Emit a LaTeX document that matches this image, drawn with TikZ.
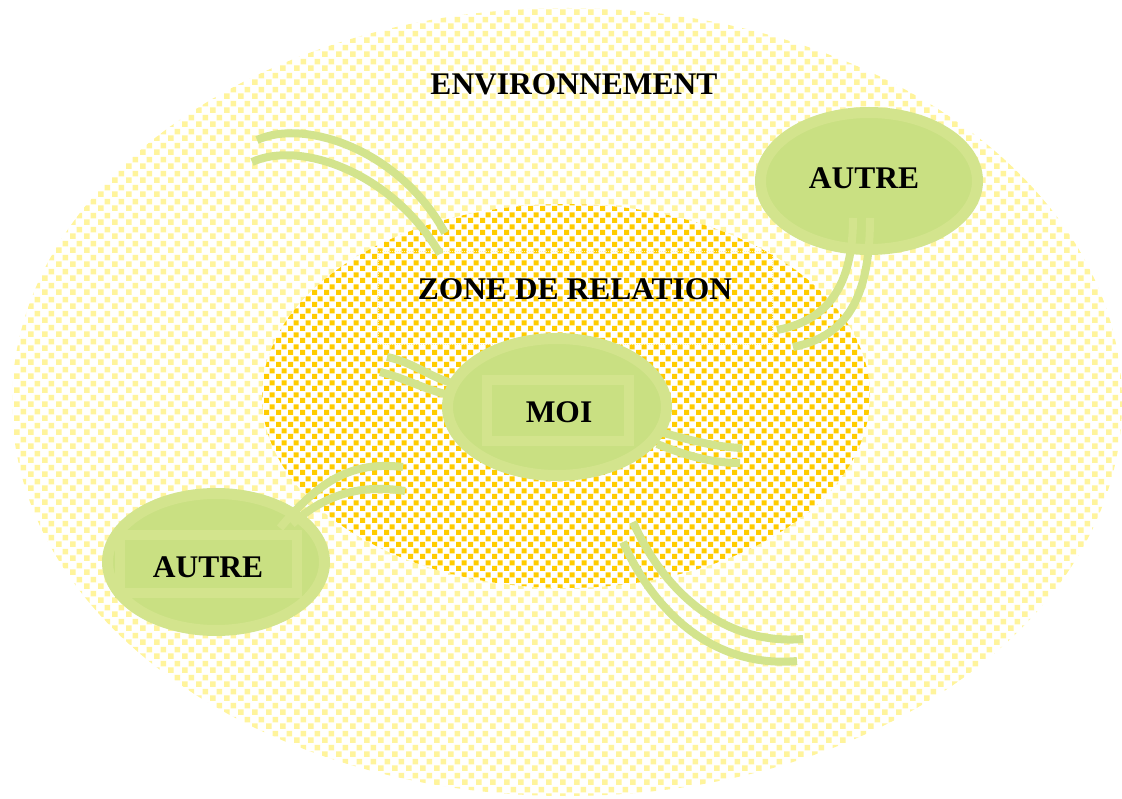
\documentclass[tikz,border=0pt]{standalone}
\usepackage{fontspec}
\setmainfont{Liberation Serif}
\usetikzlibrary{shapes.geometric,patterns.meta}
\definecolor{lgreen}{HTML}{D3E48D}
\definecolor{cgreen}{HTML}{C9E082}
\definecolor{ydot}{HTML}{FFF49C}
\definecolor{odot}{HTML}{FFCC00}
\definecolor{zline}{HTML}{FFF2B0}
\tikzdeclarepattern{name=osq, type=uncolored,
  bounding box={(0pt,0pt) and (12pt,12pt)}, tile size={(12pt,12pt)},
  code={\fill (0pt,0pt) rectangle (5.5pt,5.5pt); \fill (6pt,6pt) rectangle (11.5pt,11.5pt);}}
\tikzdeclarepattern{name=ysq, type=uncolored,
  bounding box={(0pt,0pt) and (14pt,14pt)}, tile size={(14pt,14pt)},
  code={\fill (0pt,0pt) rectangle (6pt,6pt); \fill (7pt,7pt) rectangle (13pt,13pt);}}
\begin{document}
\begin{tikzpicture}[x=1pt,y=-1pt,
  lbl/.style={font=\bfseries\fontsize{31.5}{36}\selectfont, anchor=base, inner sep=0},
  link/.style={draw=lgreen, line width=8pt},
  person/.style={ellipse, draw=lgreen, line width=11pt, fill=cgreen, inner sep=0},
  frame/.style={draw=lgreen, line width=10pt, inner sep=0},
  dotted area/.style 2 args={ellipse, inner sep=0, fill=white, postaction={pattern=#1, pattern color=#2}},
]
\useasboundingbox (0,0) rectangle (1122,799);
% environment
\node[dotted area={ysq}{ydot}, minimum width=1110pt, minimum height=788pt] (env) at (567,402) {};
% zone de relation
\node[dotted area={osq}{odot}, minimum width=608pt, minimum height=384pt] (zone) at (566,396) {};
\node[draw=zline, densely dotted, line width=1pt, minimum width=394pt, minimum height=93pt, inner sep=0] (zbox) at (575,298.5) {};

% free ends of connectors
\coordinate (tl1a) at (257,140); \coordinate (tl1b) at (445,233);
\coordinate (tl2a) at (252,162); \coordinate (tl2b) at (440,254);
\coordinate (ml1a) at (387,357); \coordinate (ml1b) at (452,383);
\coordinate (ml2a) at (380,372); \coordinate (ml2b) at (450,395);
\coordinate (mr1a) at (660,432); \coordinate (mr1b) at (742,448);
\coordinate (mr2a) at (657,444); \coordinate (mr2b) at (740,463);
\coordinate (b1a) at (633,522); \coordinate (b1b) at (803,639);
\coordinate (b2a) at (623,542); \coordinate (b2b) at (797,661);

% top-left pair
\draw[link] (tl1a) .. controls (305,118) and (400,150) .. (tl1b);
\draw[link] (tl2a) .. controls (300,140) and (392,172) .. (tl2b);
% MOI pairs
\draw[link] (ml1a) .. controls (412,362) and (430,377) .. (ml1b);
\draw[link] (ml2a) .. controls (405,378) and (425,390) .. (ml2b);
\draw[link] (mr1a) .. controls (690,440) and (715,447) .. (mr1b);
\draw[link] (mr2a) .. controls (685,455) and (710,463) .. (mr2b);

% MOI
\node[person, minimum width=219pt, minimum height=137pt] (moi) at (557,407) {};
\node[frame, minimum width=142pt, minimum height=61pt] (moibox) at (558,410.5) {};

% AUTRE top right
\node[person, minimum width=217pt, minimum height=137pt] (autre1) at (869,181) {};
% AUTRE bottom left
\node[person, minimum width=217pt, minimum height=137pt] (autre2) at (216,562) {};
\node[frame, minimum width=177pt, minimum height=58pt] (autre2box) at (208.5,564) {};

% pairs from the AUTRE nodes
\coordinate (ar1a) at (853,218); \coordinate (ar1b) at (777,330);
\coordinate (ar2a) at (870,218); \coordinate (ar2b) at (793,347);
\draw[link] (ar1a) .. controls (853,295) and (820,322) .. (ar1b);
\draw[link] (ar2a) .. controls (870,305) and (842,337) .. (ar2b);
\coordinate (al1a) at (280,528); \coordinate (al1b) at (403,467);
\coordinate (al2a) at (292,524); \coordinate (al2b) at (405,491);
\draw[link] (al1a) .. controls (320,480) and (352,461) .. (al1b);
\draw[link] (al2a) .. controls (325,494) and (362,484) .. (al2b);

% bottom pair
\draw[link] (b1a) .. controls (668,600) and (730,645) .. (b1b);
\draw[link] (b2a) .. controls (658,620) and (720,668) .. (b2b);

% labels
\node[lbl] (tenv) at (574,95) {ENVIRONNEMENT};
\node[lbl] (tzone) at (575,300) {ZONE DE RELATION};
\node[lbl] (tmoi) at (559,423) {MOI};
\node[lbl] (ta1) at (864,189) {AUTRE};
\node[lbl] (ta2) at (208,577) {AUTRE};
\end{tikzpicture}
\end{document}
